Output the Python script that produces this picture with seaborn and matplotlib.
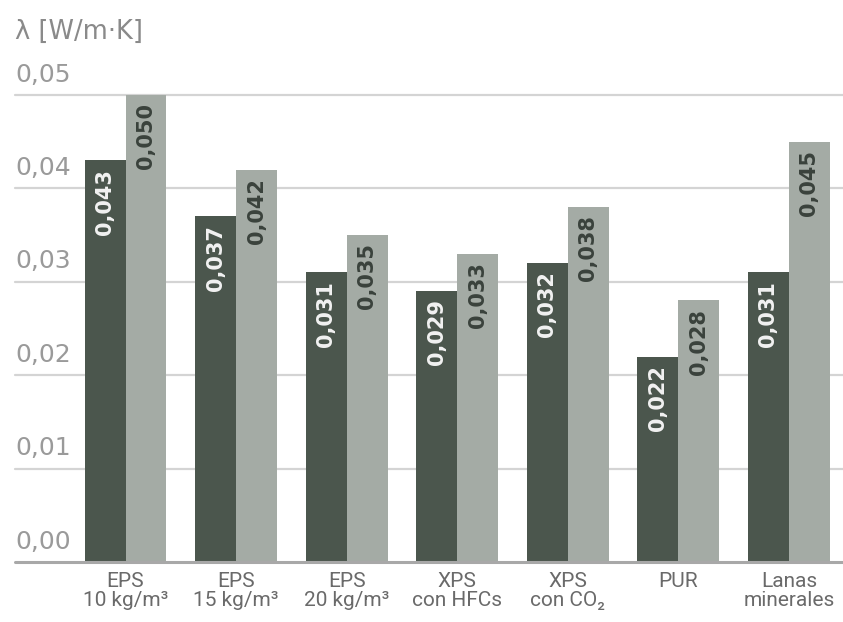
import matplotlib
matplotlib.use("Agg")
import matplotlib.pyplot as plt
import seaborn as sns
import pandas as pd

categories = ["EPS\n10 kg/m³", "EPS\n15 kg/m³", "EPS\n20 kg/m³", "XPS\ncon HFCs",
              "XPS\ncon CO₂", "PUR", "Lanas\nminerales"]
serie_baja = [0.043, 0.037, 0.031, 0.029, 0.032, 0.022, 0.031]
serie_alta = [0.050, 0.042, 0.035, 0.033, 0.038, 0.028, 0.045]
series = ["min", "max"]
y_ticks = [0.00, 0.01, 0.02, 0.03, 0.04, 0.05]
y_tick_labels = ["0,00", "0,01", "0,02", "0,03", "0,04", "0,05"]
y_title = "λ [W/m·K]"

dark = "#4b564d"
light = "#a4aba5"

df = pd.DataFrame({
    "cat": categories * 2,
    "serie": [series[0]] * len(categories) + [series[1]] * len(categories),
    "val": serie_baja + serie_alta,
})

sns.set_theme(style="white")
plt.rcParams["font.family"] = ["DejaVu Sans"]

fig = plt.figure(figsize=(8.43, 6.22), dpi=100)
ax = fig.add_axes([15 / 843, 60 / 622, 1 - 15 / 843, (562 - 95) / 622])

sns.barplot(data=df, x="cat", y="val", hue="serie", order=categories,
            hue_order=series, palette=[dark, light], width=0.74, gap=0,
            saturation=1, legend=False, ax=ax, edgecolor="none", linewidth=0)

ax.set_xlim(-1.0, 6.49)
ax.set_ylim(0, 0.05)
for s in ax.spines.values():
    s.set_visible(False)

for v in y_ticks[1:]:
    ax.axhline(v, color="#d4d4d4", lw=1.6, zorder=0, clip_on=False)
ax.axhline(0, color="#a8a8a8", lw=2.2, zorder=3, clip_on=False)

ax.set_yticks([])
for v, lab in zip(y_ticks, y_tick_labels):
    ax.annotate(lab, xy=(-1.0, v), xytext=(0, 6), textcoords="offset points",
                ha="left", va="bottom", fontsize=18, color="#9a9a9a")

ax.set_xlabel("")
ax.set_ylabel("")
ax.tick_params(axis="x", length=0, pad=7)
for t in ax.get_xticklabels():
    t.set_fontfamily(["Roboto", "DejaVu Sans"])
    t.set_fontstretch("condensed")
    t.set_fontsize(15)
    t.set_color("#6a6a6a")
    t.set_va("top")
    t.set_linespacing(1.0)

text_colors = ["#f2f2f2", "#3a423c"]
for cont, tc in zip(ax.containers, text_colors):
    for bar in cont:
        h = bar.get_height()
        ax.annotate(f"{h:.3f}".replace(".", ","),
                    xy=(bar.get_x() + bar.get_width() / 2, h),
                    xytext=(0, -6), textcoords="offset points",
                    rotation=90, ha="center", va="top",
                    fontsize=15, fontweight="bold", color=tc)

fig.text(15 / 843, 1 - 19 / 622, y_title, ha="left", va="top",
         fontsize=18.5, color="#8a8a8a")

fig.savefig("out.png", dpi=100, facecolor="white")
